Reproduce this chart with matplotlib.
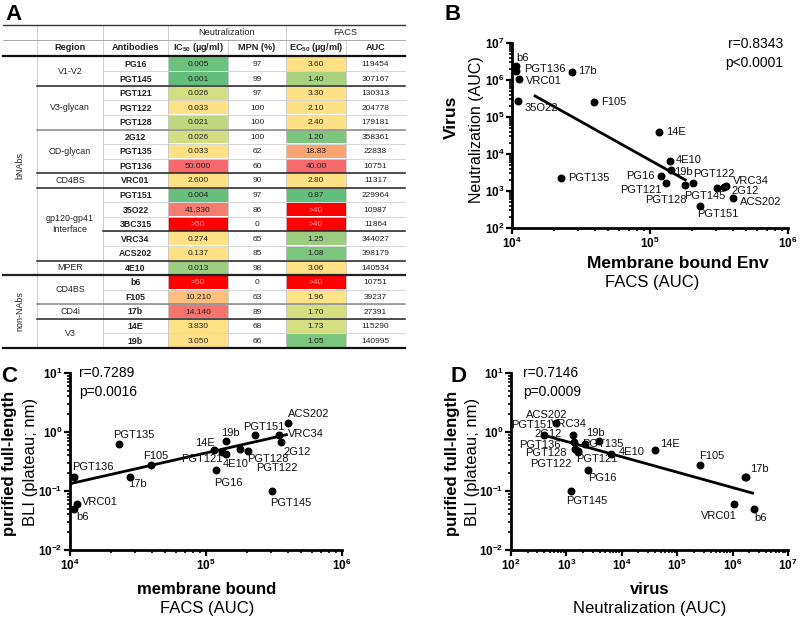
import numpy as np
import matplotlib
matplotlib.use('Agg')
import matplotlib.pyplot as plt
from matplotlib.patches import Rectangle

plt.rcParams['font.family'] = ['Liberation Sans', 'DejaVu Sans']

# table data (panel A)
antibodies = ['PG16', 'PGT145', 'PGT121', 'PGT122', 'PGT128', '2G12', 'PGT135', 'PGT136',
              'VRC01', 'PGT151', '35O22', '3BC315', 'VRC34', 'ACS202', '4E10',
              'b6', 'F105', '17b', '14E', '19b']
ic50 = ['0.005', '0.001', '0.026', '0.033', '0.021', '0.026', '0.033', '50.000', '2.600',
        '0.004', '41.330', '>50', '0.274', '0.137', '0.013', '>50', '10.210', '14.140',
        '3.830', '3.050']
mpn = [97, 99, 97, 100, 100, 100, 62, 60, 90, 97, 86, 0, 65, 85, 98, 0, 63, 89, 68, 66]
ec50 = ['3.60', '1.40', '3.30', '2.10', '2.40', '1.20', '18.83', '40.00', '2.80', '0.87',
        '>40', '>40', '1.25', '1.08', '3.06', '>40', '1.96', '1.70', '1.73', '1.05']
facs_auc = [119454, 307167, 130313, 204778, 179181, 358361, 22838, 10751, 11317, 229964,
            10987, 11864, 344027, 398179, 140534, 10751, 39237, 27391, 115290, 140995]
regions = ['V1-V2', 'V3-glycan', 'OD-glycan', 'CD4BS', 'gp120-gp41\nInterface', 'MPER',
           'CD4BS', 'CD4i', 'V3']
region_sizes = [2, 3, 3, 1, 5, 1, 2, 1, 2]
groups = ['bNAbs', 'non-NAbs']
group_sizes = [15, 5]

# values read off panels B-D (None = not plotted)
neut_auc = [2.5e3, 1.23e3, 1.65e3, 1.65e3, 1.45e3, 1.38e3, 2.2e3, 1.75e6, 1.07e6, 4.0e2,
            2.7e5, None, 1.3e3, 6.6e2, 6.5e3, 2.4e6, 2.6e5, 1.65e6, 4.0e4, 3.8e3]
bli = [0.23, 0.10, 0.45, 0.47, 0.51, 0.68, 0.62, 0.175, 0.06, 0.9,
       None, None, 0.9, 1.42, 0.43, 0.05, 0.275, 0.172, 0.49, 0.71]

fit_b_x = [1.47e4, 1.8e5]
fit_b_y = [3.7e5, 2.0e3]
fit_c_x = [1.03e4, 3.9e5]
fit_c_y = [0.135, 0.9]
fit_d_x = [3.8e2, 2.3e6]
fit_d_y = [0.89, 0.092]

# heat colours of the table cells
ic50_colors = ['#6CC17C', '#63BE7B', '#D2DE81', '#FFE084', '#BFD880', '#D2DE81', '#FFE084',
               '#F8696B', '#FFE084', '#68BF7B', '#F57C6F', '#FF0000', '#FFE084', '#FFE084',
               '#9BCF7F', '#FF0000', '#FDBF7B', '#F7736D', '#FFE084', '#FFE084']
ec50_colors = ['#FFE084', '#A9D27F', '#FFE084', '#FFE084', '#FFE084', '#7EC57D', '#F9A573',
               '#F8696B', '#FFE084', '#63BE7B', '#FF0000', '#FF0000', '#9ACD7E', '#7CC57D',
               '#FFE084', '#FF0000', '#FFE385', '#D5DF82', '#D5DF82', '#7CC57D']

W, H = 800, 618
fig = plt.figure(figsize=(8, 6.18), dpi=100)
ax_t = fig.add_axes([0, 0, 1, 1])
ax_t.set_xlim(0, W)
ax_t.set_ylim(H, 0)
ax_t.axis('off')

# ---------- table ----------
cols = [3, 37, 103, 168, 228, 286, 346, 405]
row_top = 56.7
row_h = 14.56
fs = 6
fs_head = 6.6
txt_c = '#222222'

def ry(i):
    return row_top + i * row_h

def cx(j):
    return (cols[j] + cols[j + 1]) / 2

n = len(antibodies)
for i in range(n):
    ax_t.add_patch(Rectangle((cols[3], ry(i) + 0.6), cols[4] - cols[3], row_h - 1.2,
                             color=ic50_colors[i], lw=0))
    ax_t.add_patch(Rectangle((cols[5], ry(i) + 0.6), cols[6] - cols[5], row_h - 1.2,
                             color=ec50_colors[i], lw=0))
    yc = ry(i) + row_h / 2 + 0.5
    ax_t.text(cx(2), yc, antibodies[i], ha='center', va='center', fontsize=fs + 0.3,
              fontweight='bold', color=txt_c)
    c1 = '#FF9A9A' if ic50[i].startswith('>') else txt_c
    c2 = '#FF9A9A' if ec50[i].startswith('>') else txt_c
    ax_t.text(cx(3), yc, ic50[i], ha='center', va='center', fontsize=fs, color=c1)
    ax_t.text(cx(4), yc, str(mpn[i]), ha='center', va='center', fontsize=fs, color=txt_c)
    ax_t.text(cx(5), yc, ec50[i], ha='center', va='center', fontsize=fs, color=c2)
    ax_t.text(cx(6), yc, str(facs_auc[i]), ha='center', va='center', fontsize=fs, color=txt_c)
    if i > 0:
        ax_t.plot([cols[2], cols[7]], [ry(i), ry(i)], color='#D0D0D0', lw=0.6)

# header
ax_t.text((cols[3] + cols[5]) / 2, 32.5, 'Neutralization', ha='center', va='center',
          fontsize=fs_head, color=txt_c)
ax_t.text((cols[5] + cols[7]) / 2, 32.5, 'FACS', ha='center', va='center',
          fontsize=fs_head, color=txt_c)
heads = ['Region', 'Antibodies', 'IC$_{\\mathregular{50}}$ (µg/ml)', 'MPN (%)',
         'EC$_{\\mathregular{50}}$ (µg/ml)', 'AUC']
for j, h in enumerate(heads):
    ax_t.text(cx(j + 1), 48, h, ha='center', va='center', fontsize=fs_head,
              fontweight='bold', color=txt_c)

# vertical grid
for x in [cols[1], cols[2], cols[3], cols[5]]:
    ax_t.plot([x, x], [25, ry(n)], color='#C8C8C8', lw=0.6)
for x in [cols[4], cols[6]]:
    ax_t.plot([x, x], [40, ry(n)], color='#C8C8C8', lw=0.6)

# regions and groups
start = 0
for k, (reg, size) in enumerate(zip(regions, region_sizes)):
    ax_t.text(cx(1), (ry(start) + ry(start + size)) / 2, reg, ha='center', va='center',
              fontsize=fs + 0.4, color=txt_c, linespacing=1.3)
    start += size
    if start < n:
        col = '#888888' if start in (5, 17) else '#222222'
        x0 = cols[0] if start == 15 else cols[1]
        lw = 1.6 if start == 15 else 1.1
        ax_t.plot([x0, cols[7]], [ry(start), ry(start)], color=col, lw=lw)
ax_t.plot([cols[2], cols[7]], [ry(12), ry(12)], color='#222222', lw=1.1)

start = 0
for g, size in zip(groups, group_sizes):
    ax_t.text(cx(0), (ry(start) + ry(start + size)) / 2, g, ha='center', va='center',
              fontsize=fs + 0.4, rotation=90, color=txt_c)
    start += size

ax_t.plot([cols[0], cols[7]], [25, 25], color='#333333', lw=1.0)
ax_t.plot([cols[0], cols[7]], [40, 40], color='#AAAAAA', lw=0.7)
ax_t.plot([cols[0], cols[7]], [55.5, 55.5], color='#111111', lw=1.6)
ax_t.plot([cols[0], cols[7]], [ry(n), ry(n)], color='#111111', lw=1.6)

# ---------- scatter panels ----------
def sci(e):
    return '$\\mathregular{10^{%d}}$' % e

def style_axes(ax, xdec, ydec):
    ax.set_xscale('log')
    ax.set_yscale('log')
    ax.set_xlim(10.0 ** xdec[0], 10.0 ** xdec[-1])
    ax.set_ylim(10.0 ** ydec[0], 10.0 ** ydec[-1])
    ax.set_xticks([10.0 ** e for e in xdec])
    ax.set_xticklabels([sci(e) for e in xdec], fontweight='bold', fontsize=8.5)
    ax.set_yticks([10.0 ** e for e in ydec])
    ax.set_yticklabels([sci(e) for e in ydec], fontweight='bold', fontsize=8.5)
    for s in ['top', 'right']:
        ax.spines[s].set_visible(False)
    for s in ['left', 'bottom']:
        ax.spines[s].set_linewidth(2.0)
    ax.tick_params(which='major', length=4.5, width=1.6, direction='out', pad=1)
    ax.tick_params(which='minor', length=2.4, width=1.2, direction='out')
    ax.patch.set_alpha(0)

def scatter(ax, xs, ys, names, offs, fx, fy):
    px, py, pn = [], [], []
    for x, y, nm in zip(xs, ys, names):
        if x is None or y is None:
            continue
        px.append(x); py.append(y); pn.append(nm)
    ax.plot(fx, fy, color='black', lw=2.0, zorder=2)
    ax.scatter(px, py, s=22, color='black', zorder=3, clip_on=False)
    for x, y, nm in zip(px, py, pn):
        dx, dy, ha = offs[nm]
        ax.annotate(nm, (x, y), xytext=(dx, -dy), textcoords='offset pixels',
                    ha=ha, va='center', fontsize=8, color='#111111', zorder=4)

offs_b = {'b6': (0, -8, 'left'), 'PGT136': (8, -2, 'left'), 'VRC01': (7, 2, 'left'),
          '35O22': (7, 7, 'left'), '17b': (6, -1, 'left'), 'F105': (7, 0, 'left'),
          '14E': (8, 0, 'left'), '4E10': (5, -1, 'left'), '19b': (4, 2, 'left'),
          'PG16': (-6, 0, 'right'), 'PGT121': (-4, 7, 'right'), 'PGT128': (2, 15, 'right'),
          'PGT122': (0, -9, 'left'), 'PGT145': (8, 8, 'right'), '2G12': (5, 5, 'left'),
          'VRC34': (9, -6, 'left'), 'ACS202': (7, 4, 'left'), 'PGT151': (-3, 8, 'left'),
          'PGT135': (7, 0, 'left')}
offs_c = {'ACS202': (0, -9, 'left'), 'PGT151': (-12, -8, 'left'), 'VRC34': (9, -1, 'left'),
          '2G12': (2, 10, 'left'), '19b': (-5, -8, 'left'), '14E': (0, -7, 'right'),
          'PGT121': (1, 7, 'right'), '4E10': (-3, 10, 'left'), 'PGT128': (7, 10, 'left'),
          'PGT122': (8, 17, 'left'), 'PG16': (-2, 13, 'left'), 'PGT145': (-2, 12, 'left'),
          'PGT135': (-6, -9, 'left'), 'F105': (-8, -9, 'left'), '17b': (-1, 7, 'left'),
          'PGT136': (-2, -10, 'left'), 'VRC01': (5, -2, 'left'), 'b6': (2, 8, 'left')}
offs_d = {'ACS202': (-10, -8, 'center'), 'PGT151': (8, -10, 'right'),
          '2G12': (-12, -8, 'right'), 'VRC34': (-4, -11, 'center'), '19b': (-3, -8, 'center'),
          'PGT136': (-185, -32, 'right'), 'PGT135': (-3, 0, 'left'),
          'PGT128': (-9, 4, 'right'), 'PGT122': (-7, 13, 'right'), 'PGT121': (-2, 7, 'left'),
          '4E10': (7, -2, 'left'), 'PG16': (0, 8, 'left'), 'PGT145': (-5, 10, 'left'),
          '14E': (5, -6, 'left'), 'F105': (-1, -9, 'left'), '17b': (5, -8, 'left'),
          'VRC01': (3, 12, 'right'), 'b6': (1, 9, 'left')}

ax_b = fig.add_axes([512 / W, 1 - 228 / H, 276 / W, 185 / H])
style_axes(ax_b, [4, 5, 6], [2, 3, 4, 5, 6, 7])
scatter(ax_b, facs_auc, neut_auc, antibodies, offs_b, fit_b_x, fit_b_y)

ax_c = fig.add_axes([70 / W, 1 - 550 / H, 272 / W, 177 / H])
style_axes(ax_c, [4, 5, 6], [-2, -1, 0, 1])
scatter(ax_c, facs_auc, bli, antibodies, offs_c, fit_c_x, fit_c_y)

ax_d = fig.add_axes([511 / W, 1 - 550 / H, 277 / W, 177 / H])
style_axes(ax_d, [2, 3, 4, 5, 6, 7], [-2, -1, 0, 1])
scatter(ax_d, neut_auc, bli, antibodies, offs_d, fit_d_x, fit_d_y)

# ---------- figure texts (pixel positions) ----------
def t(x, y, s, **kw):
    kw.setdefault('ha', 'center')
    kw.setdefault('va', 'center')
    ax_t.text(x, y, s, **kw)

for letter, x, y in [('A', 14, 14), ('B', 453, 14), ('C', 9, 377), ('D', 458, 377)]:
    t(x, y, letter, fontsize=16, fontweight='bold')

t(783, 44, 'r=0.8343', fontsize=10, ha='right')
t(783, 63, 'p<0.0001', fontsize=10, ha='right')
t(79, 373, 'r=0.7289', fontsize=10, ha='left')
t(79, 392, 'p=0.0016', fontsize=10, ha='left')
t(523, 373, 'r=0.7146', fontsize=10, ha='left')
t(523, 392, 'p=0.0009', fontsize=10, ha='left')

t(678, 264, 'Membrane bound Env', fontsize=12.5, fontweight='bold')
t(652, 283, 'FACS (AUC)', fontsize=12)
t(451, 117, 'Virus', fontsize=12.5, fontweight='bold', rotation=90)
t(476, 130, 'Neutralization (AUC)', fontsize=11.5, rotation=90)

t(207, 590, 'membrane bound', fontsize=12, fontweight='bold')
t(207, 608, 'FACS (AUC)', fontsize=12)
t(10, 463, 'purified full-length', fontsize=12, fontweight='bold', rotation=90)
t(30, 462, 'BLI (plateau; nm)', fontsize=12, rotation=90)

t(650, 589, 'virus', fontsize=12, fontweight='bold')
t(650, 608, 'Neutralization (AUC)', fontsize=12)
t(452, 463, 'purified full-length', fontsize=12, fontweight='bold', rotation=90)
t(472, 462, 'BLI (plateau; nm)', fontsize=12, rotation=90)

plt.savefig('out.png', dpi=100)
